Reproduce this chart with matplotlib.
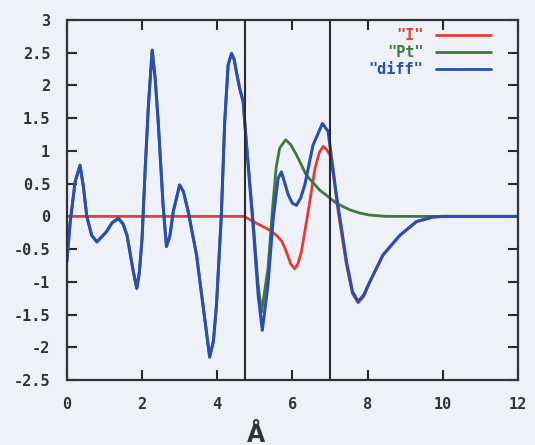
import matplotlib.pyplot as plt

# Curve samples
diff_x = [0.0, 0.09, 0.22, 0.35, 0.44, 0.53, 0.66, 0.8, 1.06, 1.2, 1.37,
          1.5, 1.6, 1.77, 1.86, 1.93, 2.0, 2.08, 2.17, 2.27, 2.35, 2.43,
          2.56, 2.65, 2.74, 2.83, 3.0, 3.1, 3.23, 3.45, 3.62, 3.8, 3.9,
          3.98, 4.11, 4.2, 4.29, 4.38, 4.45, 4.51, 4.6, 4.69, 4.78, 4.96,
          5.09, 5.2, 5.35, 5.49, 5.62, 5.71, 5.89, 6.0, 6.11, 6.22, 6.33,
          6.55, 6.8, 6.95, 7.17, 7.44, 7.6, 7.75, 7.9, 8.06, 8.41, 8.86,
          9.3, 9.74, 10.0, 12.0]
diff_y = [-0.69, -0.08, 0.53, 0.78, 0.45, 0.0, -0.29, -0.39, -0.23, -0.1,
          -0.03, -0.12, -0.29, -0.85, -1.1, -0.85, -0.34, 0.68, 1.7, 2.54,
          2.1, 1.45, 0.17, -0.46, -0.3, 0.07, 0.48, 0.38, 0.07, -0.59,
          -1.35, -2.15, -1.9, -1.36, 0.02, 1.45, 2.31, 2.49, 2.4, 2.21,
          1.95, 1.75, 1.09, -0.18, -1.2, -1.74, -1.05, -0.03, 0.58, 0.68,
          0.33, 0.2, 0.17, 0.28, 0.48, 1.09, 1.42, 1.3, 0.33, -0.69, -1.15,
          -1.3, -1.2, -1.0, -0.59, -0.29, -0.08, -0.01, 0.0, 0.0]

pt_x = [0.0, 0.09, 0.22, 0.35, 0.44, 0.53, 0.66, 0.8, 1.06, 1.2, 1.37,
        1.5, 1.6, 1.77, 1.86, 1.93, 2.0, 2.08, 2.17, 2.27, 2.35, 2.43,
        2.56, 2.65, 2.74, 2.83, 3.0, 3.1, 3.23, 3.45, 3.62, 3.8, 3.9,
        3.98, 4.11, 4.2, 4.29, 4.38, 4.45, 4.51, 4.6, 4.69, 4.78, 4.96,
        5.09, 5.18, 5.35, 5.49, 5.57, 5.66, 5.82, 5.95, 6.11, 6.37, 6.73,
        7.0, 7.17, 7.53, 7.8, 8.06, 8.5, 12.0]
pt_y = [-0.69, -0.08, 0.53, 0.78, 0.45, 0.0, -0.29, -0.39, -0.23, -0.1,
        -0.03, -0.12, -0.29, -0.85, -1.1, -0.85, -0.34, 0.68, 1.7, 2.54,
        2.1, 1.45, 0.17, -0.46, -0.3, 0.07, 0.48, 0.38, 0.07, -0.59,
        -1.35, -2.15, -1.9, -1.36, 0.02, 1.45, 2.31, 2.49, 2.4, 2.21,
        1.95, 1.75, 1.1, -0.1, -1.05, -1.46, -0.8, 0.25, 0.75, 1.04, 1.17,
        1.1, 0.94, 0.63, 0.4, 0.28, 0.2, 0.1, 0.05, 0.02, 0.0, 0.0]

i_x = [0.0, 4.72, 4.96, 5.2, 5.4, 5.58, 5.72, 5.84, 5.95, 6.06, 6.15,
       6.24, 6.42, 6.6, 6.72, 6.82, 6.9, 7.0, 7.1, 7.22, 7.44, 7.6, 7.75,
       7.9, 8.06, 8.41, 8.86, 9.3, 9.74, 10.0, 12.0]
i_y = [0.0, 0.0, -0.08, -0.15, -0.21, -0.29, -0.38, -0.54, -0.72, -0.8,
       -0.72, -0.54, 0.07, 0.73, 0.98, 1.07, 1.03, 0.94, 0.6, 0.07, -0.74,
       -1.18, -1.32, -1.22, -1.0, -0.59, -0.29, -0.08, -0.01, 0.0, 0.0]

marker_x = [4.75, 7.0]

x_ticks = [0, 2, 4, 6, 8, 10, 12]
y_ticks = [-2.5, -2, -1.5, -1, -0.5, 0, 0.5, 1, 1.5, 2, 2.5, 3]
y_tick_labels = ['-2.5', '-2', '-1.5', '-1', '-0.5', '0', '0.5', '1', '1.5',
                 '2', '2.5', '3']

PAPER = '#eef1f7'
FONT = dict(family='DejaVu Sans Mono', weight='bold', size=11)


def plot_curves():
    """Draw the three curves in gnuplot style."""

    fig = plt.figure(figsize=(5.35, 4.45), dpi=100, facecolor=PAPER)
    ax = fig.add_axes([0.125, 0.146, 0.843, 0.809], facecolor=PAPER)

    style = dict(solid_joinstyle='round', solid_capstyle='round')
    ax.plot(i_x, i_y, color='#e23c34', lw=2.0, label='"I"', **style)
    ax.plot(pt_x, pt_y, color='#3f7a3a', lw=2.0, label='"Pt"', **style)
    ax.plot(diff_x, diff_y, color='#2b4fad', lw=2.2, label='"diff"',
            **style)
    for xm in marker_x:
        ax.axvline(xm, color='#2a2a2a', lw=1.5)

    ax.set_xlim(0, 12)
    ax.set_ylim(-2.5, 3)
    ax.set_xticks(x_ticks)
    ax.set_xticklabels([str(t) for t in x_ticks], **FONT)
    ax.set_yticks(y_ticks)
    ax.set_yticklabels(y_tick_labels, **FONT)
    ax.tick_params(direction='in', length=7, width=1.5, top=True,
                   right=True, color='#2a2a2a', labelcolor='#333333')
    ax.tick_params(axis='x', pad=12)
    ax.tick_params(axis='y', pad=12)
    for side in ax.spines.values():
        side.set_linewidth(1.6)
        side.set_color('#333333')

    ax.set_xlabel('Å', fontsize=17, fontweight='bold', color='#333333')
    ax.xaxis.set_label_coords(0.42, -0.118)
    ax.xaxis.label.set_va('top')

    leg = ax.legend(loc='upper right', frameon=False, markerfirst=False,
                    handlelength=3.6, labelspacing=0.12,
                    borderaxespad=0.5, bbox_to_anchor=(0.97, 1.015),
                    labelcolor='linecolor', prop=dict(FONT))
    for line in leg.get_lines():
        line.set_linewidth(2.0)

    fig.savefig('out.png', dpi=100, facecolor=PAPER)


plot_curves()
